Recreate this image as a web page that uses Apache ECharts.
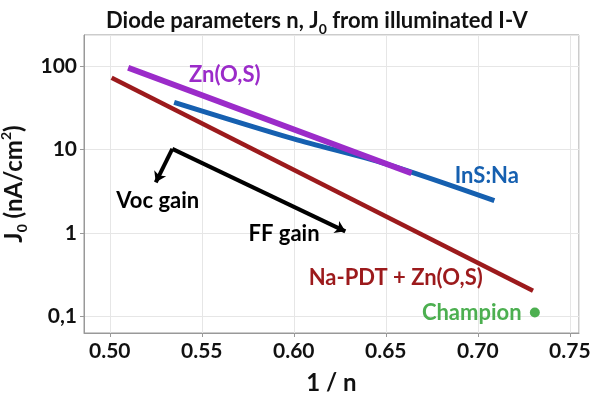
<!DOCTYPE html>
<html>
<head>
<meta charset="utf-8">
<script src="https://cdn.jsdelivr.net/npm/echarts@6/dist/echarts.min.js"></script>
<style>
  html, body { margin: 0; padding: 0; background: #fff; }
  #chart { width: 600px; height: 396px; }
</style>
</head>
<body>
<div id="chart"></div>
<script>
// values (x = 1/n, y = J0 in nA/cm2)
var naPdtX = [0.501, 0.730]
var naPdtY = [72.4, 0.204]
var znosX = [0.510, 0.664]
var znosY = [95.4, 5.2]
var insNaX = [0.535, 0.600, 0.650, 0.709]
var insNaY = [36.7, 13.4, 6.75, 2.45]
var championX = [0.731]
var championY = [0.112]
// gain arrows: shared start, then Voc end and FF end
var arrowStart = [0.534, 10.2]
var vocEnd = [0.525, 4.06]
var ffEnd = [0.628, 1.05]

var FONT = 'Lato'

function pairs(xs, ys) {
  return xs.map(function (x, i) { return [x, ys[i]] })
}

function note(text, x, y, color) {
  return {
    value: [x, y],
    label: { show: true, position: 'inside', formatter: text, color: color,
      fontFamily: FONT, fontWeight: 'bold', fontSize: 22 }
  }
}

var myChart = echarts.init(document.getElementById('chart'))

var options = {
  animation: false,
  backgroundColor: '#fff',
  title: {
    left: 101,
    top: 1,
    text: '{a|Diode parameters n, J}{s|0}{a| from illuminated I-V}',
    textStyle: {
      rich: {
        a: { fontFamily: FONT, fontWeight: 'bold', fontSize: 22, color: '#111', lineHeight: 30 },
        s: { fontFamily: FONT, fontWeight: 'bold', fontSize: 14, color: '#111', lineHeight: 30,
          verticalAlign: 'bottom' }
      }
    }
  },
  grid: {
    left: 84, top: 35, right: 21, bottom: 63,
    outerBoundsMode: 'none',
    containLabel: false,
    show: true, borderColor: '#999', borderWidth: 1
  },
  xAxis: {
    type: 'value',
    min: 0.486,
    max: 0.755,
    name: '1 / n',
    nameLocation: 'middle',
    nameGap: 38,
    nameTextStyle: { fontFamily: FONT, fontWeight: 'bold', fontSize: 24, color: '#111' },
    axisLine: { lineStyle: { color: '#999' } },
    axisTick: { show: true, length: 4, lineStyle: { color: '#999' } },
    axisLabel: {
      fontFamily: FONT, fontWeight: 'bold', fontSize: 21, color: '#111', margin: 8,
      showMinLabel: false, showMaxLabel: false,
      formatter: function (v) { return v.toFixed(2) }
    },
    splitLine: { show: true, lineStyle: { color: '#e6e6e6' } }
  },
  yAxis: {
    type: 'log',
    logBase: 10,
    min: 0.0638,
    max: 235,
    name: '{a|J}{s|0}{a| (nA/cm}{p|2}{a|)}',
    nameLocation: 'middle',
    nameGap: 42,
    nameTextStyle: {
      rich: {
        a: { fontFamily: FONT, fontWeight: 'bold', fontSize: 24, color: '#111', lineHeight: 30 },
        s: { fontFamily: FONT, fontWeight: 'bold', fontSize: 14, color: '#111', lineHeight: 30,
          verticalAlign: 'bottom' },
        p: { fontFamily: FONT, fontWeight: 'bold', fontSize: 14, color: '#111', lineHeight: 30,
          verticalAlign: 'top' }
      }
    },
    axisLine: { show: true, lineStyle: { color: '#999' } },
    axisTick: { show: true, length: 4, lineStyle: { color: '#999' } },
    axisLabel: {
      fontFamily: FONT, fontWeight: 'bold', fontSize: 21, color: '#111', margin: 7,
      showMinLabel: false, showMaxLabel: false,
      formatter: function (v) {
        return v >= 1 ? Math.round(v).toString() : v.toFixed(1).replace('.', ',')
      }
    },
    splitLine: { show: true, lineStyle: { color: '#e6e6e6' } }
  },
  series: [
    {
      name: 'Na-PDT + Zn(O,S)', type: 'line', data: pairs(naPdtX, naPdtY),
      symbol: 'none', lineStyle: { color: '#9c1a1c', width: 4.5 }, z: 3
    },
    {
      name: 'InS:Na', type: 'line', data: pairs(insNaX, insNaY), smooth: 0.3,
      symbol: 'none', lineStyle: { color: '#1660b0', width: 5 }, z: 3
    },
    {
      name: 'Zn(O,S)', type: 'line', data: pairs(znosX, znosY),
      symbol: 'none', lineStyle: { color: '#9b2bc9', width: 6 }, z: 4
    },
    {
      name: 'Champion', type: 'scatter', data: pairs(championX, championY),
      symbolSize: 10, itemStyle: { color: '#4caf50', opacity: 1 }, z: 5
    },
    {
      name: 'gain', type: 'lines', coordinateSystem: 'cartesian2d',
      symbol: ['none', 'arrow'], symbolSize: 10,
      lineStyle: { color: '#000', width: 4, opacity: 1 },
      data: [
        { coords: [arrowStart, vocEnd] },
        { coords: [arrowStart, ffEnd] }
      ],
      z: 5
    },
    {
      name: 'notes', type: 'scatter', symbolSize: 0, silent: true, z: 6,
      itemStyle: { opacity: 1 },
      data: [
        note('Zn(O,S)', 0.5625, 78, '#9b2bc9'),
        note('InS:Na', 0.7049, 4.89, '#1660b0'),
        note('Voc gain', 0.5261, 2.45, '#000'),
        note('FF gain', 0.5947, 0.98, '#000'),
        note('Na-PDT + Zn(O,S)', 0.6554, 0.292, '#9c1a1c'),
        note('Champion', 0.6967, 0.112, '#4caf50')
      ]
    }
  ]
}

myChart.setOption(options)
</script>
</body>
</html>
